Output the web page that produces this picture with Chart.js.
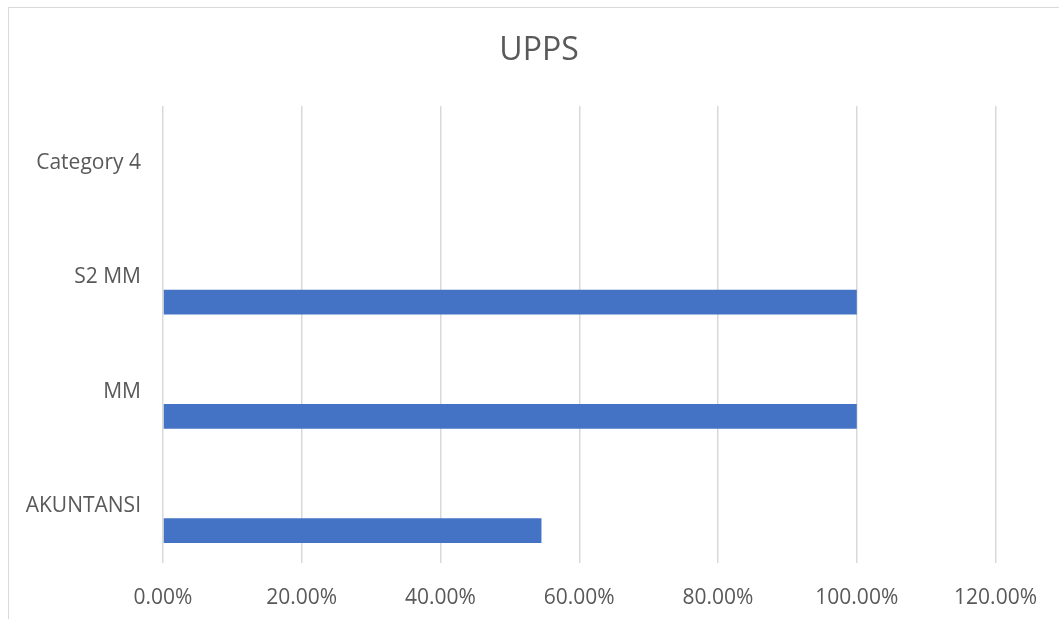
<!DOCTYPE html>
<html>
<head>
<meta charset="utf-8">
<script src="https://cdn.jsdelivr.net/npm/chart.js@4"></script>
<style>
  html, body { margin: 0; padding: 0; background: #fff; overflow: hidden; }
  #wrap { position: relative; width: 1059px; height: 619px; }
  #frame {
    position: absolute; left: 8px; top: 7px; width: 1100px; height: 700px;
    border: 1px solid #d9d9d9; box-sizing: border-box;
  }
  #chart { position: absolute; left: 0; top: 0; }
</style>
</head>
<body>
<div id="wrap">
  <div id="frame"></div>
  <canvas id="chart" width="1059" height="619"></canvas>
</div>
<script>
const TEXT_COLOR = "#595959";
const GRID_COLOR = "#d9d9d9";
const BAR_COLOR = "#4472c4";

const categories = ["AKUNTANSI", "MM", "S2 MM", "Category 4"];
const series1 = [54.55, 100, 100, null];
const series2 = [];
const series3 = [];
const xTicks = [0, 20, 40, 60, 80, 100, 120];

Chart.defaults.font.family = "'Open Sans', sans-serif";
Chart.defaults.color = TEXT_COLOR;

// the title is centred on the whole chart frame, not on the padded area
const centerTitle = {
  id: "centerTitle",
  afterLayout(chart) {
    if (chart.titleBlock) {
      chart.titleBlock.left = 0;
      chart.titleBlock.right = 1078;
    }
  },
};

const ctx = document.getElementById("chart").getContext("2d");

new Chart(ctx, {
  type: "bar",
  data: {
    labels: categories,
    datasets: [
      // Excel draws series 1 at the bottom of each group, so it goes last here
      { label: "Series 3", data: series3, backgroundColor: "#a5a5a5" },
      { label: "Series 2", data: series2, backgroundColor: "#ed7d31" },
      { label: "Series 1", data: series1, backgroundColor: BAR_COLOR },
    ],
  },
  plugins: [centerTitle],
  options: {
    indexAxis: "y",
    responsive: false,
    animation: false,
    categoryPercentage: 0.65,
    barPercentage: 1,
    layout: { padding: { left: 0, right: 63, top: 0, bottom: 0 } },
    plugins: {
      legend: { display: false },
      tooltip: { enabled: false },
      title: {
        display: true,
        text: "UPPS",
        color: TEXT_COLOR,
        font: { size: 32, weight: "normal" },
        padding: { top: 32, bottom: 35.6 },
      },
    },
    scales: {
      x: {
        min: 0,
        max: 120,
        afterBuildTicks: (scale) => {
          scale.ticks = xTicks.map((v) => ({ value: v }));
        },
        grid: { color: GRID_COLOR, lineWidth: 1.5, drawTicks: false },
        border: { display: false },
        ticks: {
          padding: 22,
          color: TEXT_COLOR,
          font: { size: 21 },
          callback: (v) => v.toFixed(2) + "%",
        },
        afterFit: (scale) => { scale.height = 56; },
      },
      y: {
        reverse: true,
        grid: { display: false, drawTicks: false },
        border: { display: false },
        ticks: { padding: 22, color: TEXT_COLOR, font: { size: 21 } },
        afterFit: (scale) => { scale.width = 163; },
      },
    },
  },
});
</script>
</body>
</html>
